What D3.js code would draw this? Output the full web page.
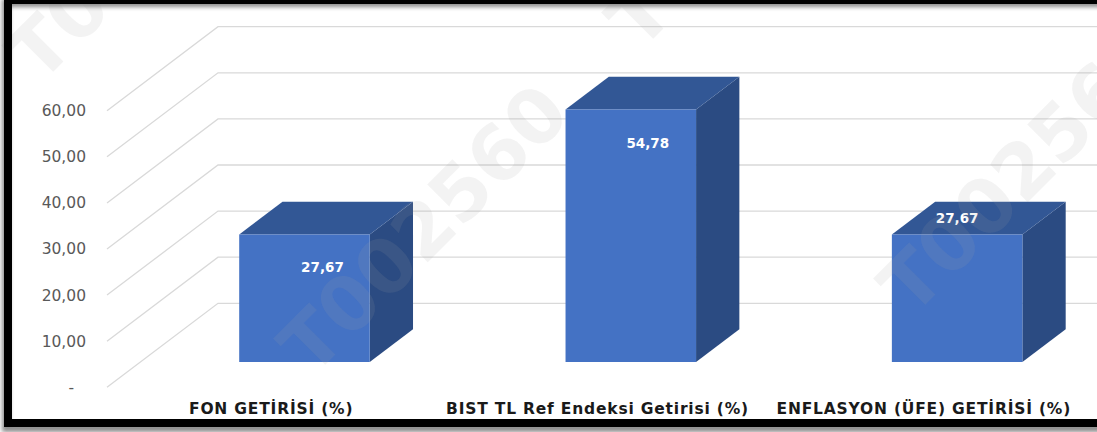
<!DOCTYPE html>
<html>
<head>
<meta charset="utf-8">
<script src="https://cdn.jsdelivr.net/npm/d3@7"></script>
<style>
  html, body { margin: 0; padding: 0; background: #fff; }
  svg { display: block; }
</style>
</head>
<body>
<svg id="chart" width="1097" height="432"></svg>
<script>
// data
const categories = ["FON GETİRİSİ (%)", "BIST TL Ref Endeksi Getirisi (%)", "ENFLASYON (ÜFE) GETİRİSİ (%)"];
const values = [27.67, 54.78, 27.67];
const yTicks = [0, 10, 20, 30, 40, 50, 60];
const watermarkText = "T002560";

const W = 1097, H = 432;
const svg = d3.select("#chart");

// oblique "3D": the depth axis runs up and to the right
const depth = { dx: 111, dy: -84 };
const barDepth = [0.3, 0.69]; // front / back of each column, as a share of floor depth
const labelShift = [[18, 32], [17, 33], [0, -17]]; // where Excel put the data labels

const x = d3.scaleBand()
    .domain(categories)
    .range([108, 1087])
    .paddingInner(0.6)
    .paddingOuter(0.3);

const y = d3.scaleLinear()
    .domain([0, 60])
    .range([387.3, 110.7]);

const tr = d3.formatLocale({ decimal: ",", thousands: ".", grouping: [3], currency: ["", " ₺"] });
const fmt = tr.format(".2f");

const pt = (px, py, f) => [px + depth.dx * f, py + depth.dy * f];
const poly = pts => "M" + pts.map(p => p.join(",")).join("L") + "Z";

svg.append("rect").attr("width", W).attr("height", H).attr("fill", "#fff");

// 1. gridlines: side wall diagonal + back wall horizontal
svg.append("g")
    .attr("class", "grid")
  .selectAll("path")
  .data(yTicks)
  .join("path")
    .attr("d", d => {
        const x0 = x.range()[0] - 1;
        const [bx, by] = pt(x0, y(d), 1);
        return `M${x0},${y(d)}L${bx},${by}L${W},${by}`;
    })
    .attr("fill", "none")
    .attr("stroke", "#d9d9d9")
    .attr("stroke-width", 1.3);

// 2. columns (side, top, front faces)
const bars = svg.append("g")
    .attr("class", "bars")
  .selectAll("g")
  .data(values)
  .join("g");

bars.each(function(v, i) {
    const g = d3.select(this);
    const x0 = x(categories[i]), x1 = x0 + x.bandwidth();
    const yb = y(0), yt = y(v);
    const [f0, f1] = barDepth;

    g.append("path")
        .attr("d", poly([pt(x1, yb, f0), pt(x1, yb, f1), pt(x1, yt, f1), pt(x1, yt, f0)]))
        .attr("fill", "#2b4b82");
    g.append("path")
        .attr("d", poly([pt(x0, yt, f0), pt(x0, yt, f1), pt(x1, yt, f1), pt(x1, yt, f0)]))
        .attr("fill", "#325795");
    g.append("path")
        .attr("d", poly([pt(x0, yb, f0), pt(x1, yb, f0), pt(x1, yt, f0), pt(x0, yt, f0)]))
        .attr("fill", "#4472c4");
});

// data labels
svg.append("g")
    .attr("class", "value-labels")
  .selectAll("text")
  .data(values)
  .join("text")
    .attr("x", (d, i) => pt(x(categories[i]) + x.bandwidth() / 2, y(d), barDepth[0])[0] + labelShift[i][0])
    .attr("y", (d, i) => pt(x(categories[i]) + x.bandwidth() / 2, y(d), barDepth[0])[1] + labelShift[i][1])
    .attr("text-anchor", "middle")
    .attr("dominant-baseline", "central")
    .style("font", "bold 13.5px 'DejaVu Sans'")
    .attr("fill", "#fff")
    .text(d => fmt(d));

// 3. value axis on the front edge of the side wall
const axis = svg.append("g")
    .attr("transform", `translate(${x.range()[0] - 1},0)`)
    .call(d3.axisLeft(y).tickValues(yTicks).tickSize(0).tickPadding(21)
        .tickFormat(d => d === 0 ? "-" : fmt(d)));
axis.select(".domain").remove();
axis.selectAll("text")
    .attr("fill", "#595959")
    .style("font", "15.5px 'DejaVu Sans'");
axis.selectAll(".tick").filter(d => d === 0).select("text").attr("dx", -12);

// category labels along the front of the floor
svg.append("g")
    .attr("class", "cat-labels")
  .selectAll("text")
  .data(categories)
  .join("text")
    .attr("x", d => x(d) + x.bandwidth() / 2)
    .attr("y", 409)
    .attr("text-anchor", "middle")
    .attr("dominant-baseline", "central")
    .style("font", "bold 15.5px 'DejaVu Sans'")
    .style("letter-spacing", "0.8px")
    .attr("fill", "#1a1a1a")
    .text(d => d);

// watermark stamped over the picture
const wmSpots = [[40, 85], [312, 378], [640, 52], [912, 318]];
svg.append("g")
    .attr("class", "watermark")
  .selectAll("text")
  .data(wmSpots)
  .join("text")
    .attr("transform", d => `translate(${d[0]},${d[1]}) rotate(-45)`)
    .style("font", "bold 76px 'DejaVu Sans'")
    .attr("fill", "#a6a6a6")
    .attr("fill-opacity", 0.13)
    .text(watermarkText);

// 4. frame with drop shadow
const defs = svg.append("defs");
defs.append("filter").attr("id", "blur")
    .attr("x", "-5%").attr("y", "-5%").attr("width", "110%").attr("height", "115%")
  .append("feGaussianBlur").attr("stdDeviation", 2);

svg.append("rect")
    .attr("x", 6).attr("y", 3).attr("width", W + 40).attr("height", 425)
    .attr("fill", "none")
    .attr("stroke", "#8c8c8c")
    .attr("stroke-width", 8)
    .attr("filter", "url(#blur)");
svg.append("rect")
    .attr("x", 8).attr("y", 0).attr("width", W + 40).attr("height", 423)
    .attr("fill", "none")
    .attr("stroke", "#000")
    .attr("stroke-width", 8);
</script>
</body>
</html>
